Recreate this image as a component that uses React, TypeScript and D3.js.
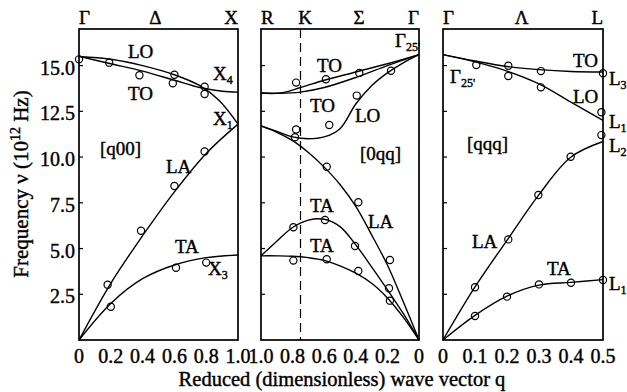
import React from 'react';
import * as d3 from 'd3';

// ---- data ----
// panel 1: [q00], q from 0 to 1
const p1LO = [[0, 15.5], [0.2, 15.35], [0.4, 15.0], [0.6, 14.5], [0.76, 13.9], [0.88, 13.1], [1.0, 11.8]];
const p1TO = [[0, 15.5], [0.2, 15.1], [0.4, 14.7], [0.6, 14.2], [0.76, 13.8], [0.9, 13.6], [1.0, 13.55]];
const p1LA = [[0, 0], [0.2, 3.1], [0.4, 5.7], [0.6, 8.1], [0.8, 10.2], [1.0, 11.8]];
const p1TA = [[0, 0], [0.2, 2.0], [0.4, 3.35], [0.6, 4.1], [0.8, 4.5], [1.0, 4.65]];
const p1Pts = [[0, 15.34], [0.19, 15.16], [0.38, 14.47], [0.6, 14.5], [0.59, 14.03], [0.79, 13.85], [0.79, 13.45],
  [0.79, 10.3], [0.6, 8.42], [0.39, 5.97], [0.18, 3.02], [0.2, 1.82], [0.61, 3.95], [0.8, 4.23]];

// panel 2: [0qq], q from 1 (R) to 0 (Gamma)
const p2TOa = [[1.0, 13.5], [0.88, 13.5], [0.75, 13.8], [0.6, 14.2], [0.4, 14.65], [0.2, 15.1], [0, 15.6]];
const p2TOb = [[1.0, 13.5], [0.88, 13.48], [0.75, 13.55], [0.6, 13.8], [0.4, 14.35], [0.2, 15.0], [0, 15.6]];
const p2LO = [[1.0, 11.7], [0.9, 11.4], [0.8, 11.1], [0.7, 11.0], [0.6, 11.1], [0.5, 11.55], [0.4, 12.9], [0.3, 13.9], [0.2, 14.6], [0.1, 15.15], [0, 15.6]];
const p2LA = [[1.0, 11.7], [0.9, 11.35], [0.8, 10.9], [0.7, 10.25], [0.6, 9.45], [0.5, 8.5], [0.4, 7.3], [0.3, 5.75], [0.2, 4.1], [0.1, 2.1], [0, 0]];
const p2TAa = [[1.0, 4.6], [0.9, 5.4], [0.8, 6.15], [0.7, 6.55], [0.6, 6.6], [0.5, 6.2], [0.4, 5.2], [0.3, 4.0], [0.2, 2.75], [0.1, 1.45], [0, 0]];
const p2TAb = [[1.0, 4.6], [0.9, 4.6], [0.8, 4.58], [0.7, 4.5], [0.6, 4.35], [0.5, 4.05], [0.4, 3.65], [0.3, 3.1], [0.2, 2.3], [0.1, 1.25], [0, 0]];
const p2Pts = [[0.778, 14.07], [0.589, 14.25], [0.378, 14.6], [0.177, 14.72], [0.394, 13.36], [0.568, 11.75],
  [0.778, 11.51], [0.785, 11.08], [0.584, 9.47], [0.384, 7.53], [0.184, 4.37], [0.795, 6.16], [0.595, 6.56],
  [0.405, 5.14], [0.19, 2.83], [0.795, 4.34], [0.584, 4.41], [0.384, 3.77], [0.184, 2.15]];

// panel 3: [qqq], q from 0 to 0.5
const p3TO = [[0, 15.6], [0.1, 15.25], [0.2, 14.95], [0.3, 14.78], [0.4, 14.68], [0.5, 14.65]];
const p3LO = [[0, 15.6], [0.1, 15.2], [0.2, 14.7], [0.3, 14.0], [0.4, 13.0], [0.5, 12.0]];
const p3LA = [[0, 0], [0.1, 2.9], [0.2, 5.45], [0.3, 7.95], [0.4, 10.0], [0.5, 10.85]];
const p3TA = [[0, 0], [0.1, 1.35], [0.2, 2.4], [0.3, 3.0], [0.4, 3.15], [0.5, 3.3]];
const p3Pts = [[0.104, 15.03], [0.204, 14.99], [0.204, 14.43], [0.306, 14.7], [0.306, 13.81], [0.5, 14.58],
  [0.495, 12.45], [0.495, 11.2], [0.399, 10.02], [0.298, 7.93], [0.204, 5.5], [0.1, 2.88], [0.1, 1.31],
  [0.2, 2.37], [0.3, 3.04], [0.4, 3.13], [0.5, 3.28]];

const yTicks = [2.5, 5.0, 7.5, 10.0, 12.5, 15.0];
const p1Ticks = [0, 0.2, 0.4, 0.6, 0.8, 1.0];
const p2Ticks = [1.0, 0.8, 0.6, 0.4, 0.2, 0];
const p3Ticks = [0, 0.1, 0.2, 0.3, 0.4, 0.5];

const FONT = '"Liberation Serif", "Times New Roman", serif';

const y = d3.scaleLinear().domain([0, 17]).range([340, 29]);

const panels = [
  { x: d3.scaleLinear().domain([0, 1]).range([79, 238]), ticks: p1Ticks, curves: [p1LO, p1TO, p1LA, p1TA], pts: p1Pts,
    top: [{ t: 'Γ', q: 0, a: 'start' }, { t: 'Δ', q: 0.48, a: 'middle' }, { t: 'X', q: 1, a: 'end' }] },
  { x: d3.scaleLinear().domain([1, 0]).range([261, 419]), ticks: p2Ticks, curves: [p2TOa, p2TOb, p2LO, p2LA, p2TAa, p2TAb], pts: p2Pts,
    top: [{ t: 'R', q: 1, a: 'start' }, { t: 'K', q: 0.72, a: 'middle' }, { t: 'Σ', q: 0.38, a: 'middle' }, { t: 'Γ', q: 0, a: 'end' }] },
  { x: d3.scaleLinear().domain([0, 0.5]).range([443, 603]), ticks: p3Ticks, curves: [p3TO, p3LO, p3LA, p3TA], pts: p3Pts,
    top: [{ t: 'Γ', q: 0, a: 'start' }, { t: 'Λ', q: 0.246, a: 'middle' }, { t: 'L', q: 0.5, a: 'end' }] },
];

// label with optional subscript
const Lab = ({ x, y, t, sub, size = 19 }: any) => (
  <text x={x} y={y} fontSize={size}>
    {t}
    {sub && <tspan dy={4} fontSize={12}>{sub}</tspan>}
  </text>
);

export default function App() {
  return (
    <svg width={627} height={392} style={{ display: 'block', position: 'absolute', left: 0, top: 0, background: '#fff' }}
      fontFamily={FONT}>
      {panels.map((p, i) => {
        const [x0, x1] = p.x.range();
        const line = d3.line<number[]>().x(d => p.x(d[0])).y(d => y(d[1])).curve(d3.curveCatmullRom.alpha(0.5));
        return (
          <g key={i}>
            {yTicks.map(v => (
              <line key={v} x1={x0} x2={x0 + 4} y1={y(v)} y2={y(v)} stroke="#000" strokeWidth={1.2} />
            ))}
            {p.curves.map((c, j) => (
              <path key={j} d={line(c) || ''} fill="none" stroke="#000" strokeWidth={1.4} />
            ))}
            {p.pts.map((d, j) => (
              <circle key={j} cx={p.x(d[0])} cy={y(d[1])} r={3.6} fill="none" stroke="#000" strokeWidth={1.2} />
            ))}
            <rect x={x0} y={29} width={x1 - x0} height={340 - 29} fill="none" stroke="#000" strokeWidth={1.7} />
          </g>
        );
      })}

      {/* dashed line at K */}
      <line x1={panels[1].x(0.75)} x2={panels[1].x(0.75)} y1={29} y2={340} stroke="#000" strokeWidth={1.2} strokeDasharray="9,5" />

      <g stroke="#000" strokeWidth={0.4} fill="#000">
        {panels.map((p, i) => (
          <g key={i}>
            {p.ticks.map(v => (
              <text key={v} x={p.x(v)} y={363} fontSize={20} textAnchor="middle">
                {v === 0 ? '0' : d3.format('.1f')(v)}
              </text>
            ))}
            {p.top.map(d => (
              <text key={d.t + d.q} x={p.x(d.q)} y={24} fontSize={19} textAnchor={d.a}>{d.t}</text>
            ))}
          </g>
        ))}

        {/* y tick labels */}
        {yTicks.map(v => (
          <text key={v} x={75} y={y(v) + 9} fontSize={20} textAnchor="end">{d3.format('.1f')(v)}</text>
        ))}

        {/* panel 1 labels */}
        <Lab x={128} y={58} t="LO" />
        <Lab x={128} y={100} t="TO" />
        <Lab x={213} y={80} t="X" sub="4" />
        <Lab x={213} y={125} t="X" sub="1" />
        <Lab x={100} y={155} t="[q00]" />
        <Lab x={166} y={173} t="LA" />
        <Lab x={175} y={253} t="TA" />
        <Lab x={208} y={275} t="X" sub="3" />

        {/* panel 2 labels */}
        <Lab x={317} y={72} t="TO" />
        <Lab x={310} y={112} t="TO" />
        <Lab x={355} y={122} t="LO" />
        <Lab x={360} y={160} t="[0qq]" />
        <Lab x={395} y={47} t="Γ" sub="25'" />
        <Lab x={368} y={228} t="LA" />
        <Lab x={310} y={212} t="TA" />
        <Lab x={310} y={252} t="TA" />

        {/* panel 3 labels */}
        <Lab x={573} y={67} t="TO" />
        <Lab x={609} y={85} t="L" sub="3" />
        <Lab x={450} y={83} t="Γ" sub="25'" />
        <Lab x={573} y={103} t="LO" />
        <Lab x={609} y={128} t="L" sub="1" />
        <Lab x={467} y={150} t="[qqq]" />
        <Lab x={609} y={152} t="L" sub="2" />
        <Lab x={472} y={248} t="LA" />
        <Lab x={547} y={275} t="TA" />
        <Lab x={609} y={290} t="L" sub="1" />

        {/* axis titles */}
        <text x={342} y={386} fontSize={20.5} textAnchor="middle">Reduced (dimensionless) wave vector q</text>
        <text transform="translate(28,184) rotate(-90)" fontSize={21} textAnchor="middle">
          Frequency ν (10<tspan dy={-8} fontSize={14}>12</tspan><tspan dy={8}> Hz)</tspan>
        </text>
      </g>
    </svg>
  );
}
